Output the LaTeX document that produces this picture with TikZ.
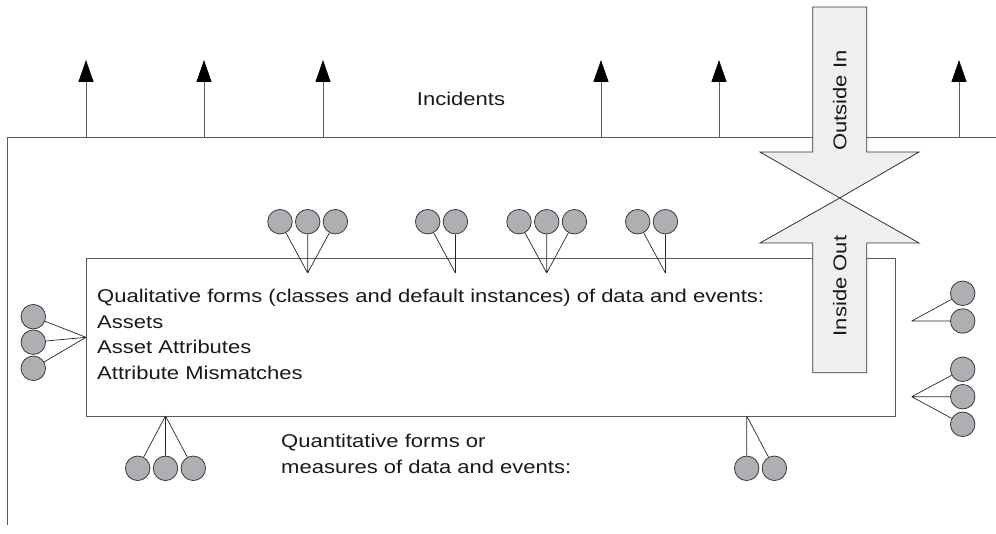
\documentclass[tikz,border=0pt]{standalone}
\usepackage{fontspec}
\setmainfont{Liberation Sans}[FakeStretch=1.19]
\usetikzlibrary{arrows.meta}
\definecolor{ballfill}{HTML}{AEAFB2}
\definecolor{ballline}{HTML}{3A3A3A}
\definecolor{frameline}{HTML}{5A5A5A}
\definecolor{bigarrow}{HTML}{EEEFF1}
\begin{document}
\begin{tikzpicture}[x=1pt,y=-1pt,
  ball/.style={circle,minimum size=24.5pt,inner sep=0pt,fill=ballfill,draw=ballline,line width=0.8pt},
  spoke/.style={draw=black!85,line width=0.7pt},
  frame/.style={draw=frameline,line width=1pt},
  incarrow/.style={draw=frameline,line width=1pt,-{Triangle[length=22pt,width=15pt,fill=black,color=black]}},
  bigarr/.style={fill=bigarrow,draw=black!80,line width=0.8pt},
  lbl/.style={font=\fontsize{18.5}{22}\selectfont,inner sep=0pt,text=black!90}]
\useasboundingbox (0,0) rectangle (996,534);
% outer frame
\draw[frame] (7,525) -- (7,138) -- (996,138);
% incident arrows
\foreach \i/\x in {1/86,2/204,3/323,4/601,5/719,6/959}{
  \coordinate (b\i) at (\x,138);
  \coordinate (t\i) at (\x,60);
  \draw[incarrow] (b\i) -- (t\i);
}
\node[lbl,anchor=base] (inc) at (461,106) {Incidents};
% inner box
\node[frame,draw,minimum width=809pt,minimum height=158pt,inner sep=0pt,anchor=north west] (box) at (86,258) {};
\node[lbl,anchor=base west] (q1) at (97,303) {Qualitative forms (classes and default instances) of data and events:};
\node[lbl,anchor=base west] (q2) at (97,328.5) {Assets};
\node[lbl,anchor=base west] (q3) at (97,354) {Asset Attributes};
\node[lbl,anchor=base west] (q4) at (97,379.5) {Attribute Mismatches};
\node[lbl,anchor=base west] (m1) at (281,447) {Quantitative forms or};
\node[lbl,anchor=base west] (m2) at (281,473) {measures of data and events:};
% top groups
\node[ball] (a1) at (280,221.7) {};
\node[ball] (a2) at (307.7,221.7) {};
\node[ball] (a3) at (335.4,221.7) {};
\coordinate (ap) at (307.7,273);
\draw[spoke] (ap) -- (a1) (ap) -- (a2) (ap) -- (a3);
\node[ball] (b1) at (427.7,221.7) {};
\node[ball] (b2) at (455.4,221.7) {};
\coordinate (bp) at (455.4,273);
\draw[spoke] (bp) -- (b1) (bp) -- (b2);
\node[ball] (c1) at (519,221.7) {};
\node[ball] (c2) at (546.7,221.7) {};
\node[ball] (c3) at (574.4,221.7) {};
\coordinate (cp) at (546.7,273);
\draw[spoke] (cp) -- (c1) (cp) -- (c2) (cp) -- (c3);
\node[ball] (d1) at (637.7,221.7) {};
\node[ball] (d2) at (665.4,221.7) {};
\coordinate (dp) at (665.4,273);
\draw[spoke] (dp) -- (d1) (dp) -- (d2);
% left group
\node[ball] (e1) at (33.3,316.7) {};
\node[ball] (e2) at (33.3,342.2) {};
\node[ball] (e3) at (33.3,368.3) {};
\coordinate (ep) at (86,337.3);
\draw[spoke] (ep) -- (e1) (ep) -- (e2) (ep) -- (e3);
% bottom groups
\node[ball] (f1) at (137.7,468.3) {};
\node[ball] (f2) at (165.5,468.3) {};
\node[ball] (f3) at (193.3,468.3) {};
\coordinate (fp) at (165.5,416);
\draw[spoke] (fp) -- (f1) (fp) -- (f2) (fp) -- (f3);
\node[ball] (g1) at (746.7,468.3) {};
\node[ball] (g2) at (774.4,468.3) {};
\coordinate (gp) at (746.7,416);
\draw[spoke] (gp) -- (g1) (gp) -- (g2);
% right groups
\node[ball] (h1) at (962.7,293.3) {};
\node[ball] (h2) at (962.7,321) {};
\coordinate (hp) at (911.7,321);
\draw[spoke] (hp) -- (h1) (hp) -- (h2);
\node[ball] (k1) at (962.7,369.3) {};
\node[ball] (k2) at (962.7,396.7) {};
\node[ball] (k3) at (962.7,424.3) {};
\coordinate (kp) at (911.7,396.7);
\draw[spoke] (kp) -- (k1) (kp) -- (k2) (kp) -- (k3);
% big arrows
\draw[bigarr] (812.7,7) -- (866.7,7) -- (866.7,152) -- (919,152) -- (839.7,198) -- (760,152) -- (812.7,152) -- cycle;
\draw[bigarr] (839.7,198) -- (919,243) -- (866.7,243) -- (866.7,372.7) -- (812.7,372.7) -- (812.7,243) -- (760,243) -- cycle;
\node[lbl,rotate=90] (oi) at (839.7,100.5) {Outside In};
\node[lbl,rotate=90] (io) at (839.7,286) {Inside Out};
\end{tikzpicture}
\end{document}
